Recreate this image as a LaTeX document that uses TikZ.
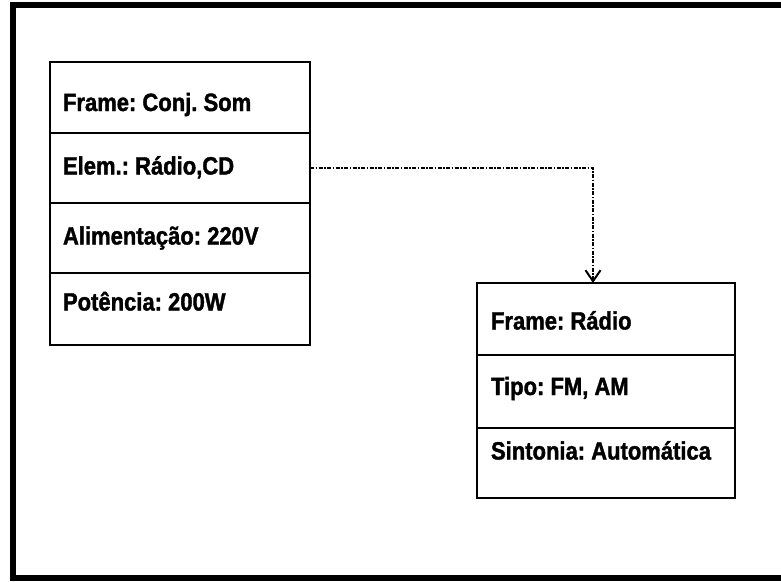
\documentclass[tikz,border=0pt]{standalone}
\usepackage{fontspec}
\setmainfont[FakeStretch=0.88, BoldFeatures={FakeStretch=0.88, FakeBold=1.5}]{Liberation Sans}
\usetikzlibrary{arrows.meta, positioning}

\begin{document}
\frenchspacing
\begin{tikzpicture}[x=1pt, y=-1pt,
		slot/.style={draw, line width=2.4pt, outer sep=0pt, inner xsep=13pt,
			text width=234pt, align=flush left, minimum height=71pt,
			text height=18pt, text depth=5pt,
			font=\fontsize{25}{28}\bfseries\selectfont},
		ligacao/.style={line width=2.6pt, dash pattern=on 4pt off 1.5pt on 1.5pt off 1.5pt,
			-{Straight Barb[length=11pt, width=15pt, line width=2pt]}}]
	\useasboundingbox (0,0) rectangle (781,581);
	\draw[line width=5.5pt] (784,5) -- (13,5) -- (13,578) -- (784,578);
	\node[slot, anchor=north west, text height=32pt] (somframe) at (50,62) {Frame: Conj. Som};
	\node[slot, below=0pt of somframe, minimum height=70pt] (somelem) {Elem.: Rádio,CD};
	\node[slot, below=0pt of somelem, minimum height=70pt] (somalim) {Alimentação: 220V};
	\node[slot, below=0pt of somalim, minimum height=72pt, text depth=15pt] (sompot) {Potência: 200W};
	\node[slot, anchor=north west, text width=230pt, inner xsep=14pt, minimum height=72pt, text height=26pt] (radioframe) at (477,283) {Frame: Rádio};
	\node[slot, below=0pt of radioframe, text width=230pt, inner xsep=14pt, minimum height=73pt, text depth=11pt] (radiotipo) {Tipo: FM, AM};
	\node[slot, below=0pt of radiotipo, text width=230pt, inner xsep=14pt, minimum height=70pt, text depth=25pt] (radiosint) {Sintonia: Automática};
	\draw[ligacao] (somelem.east) -| ([xshift=-13pt]radioframe.north);
\end{tikzpicture}
\end{document}
